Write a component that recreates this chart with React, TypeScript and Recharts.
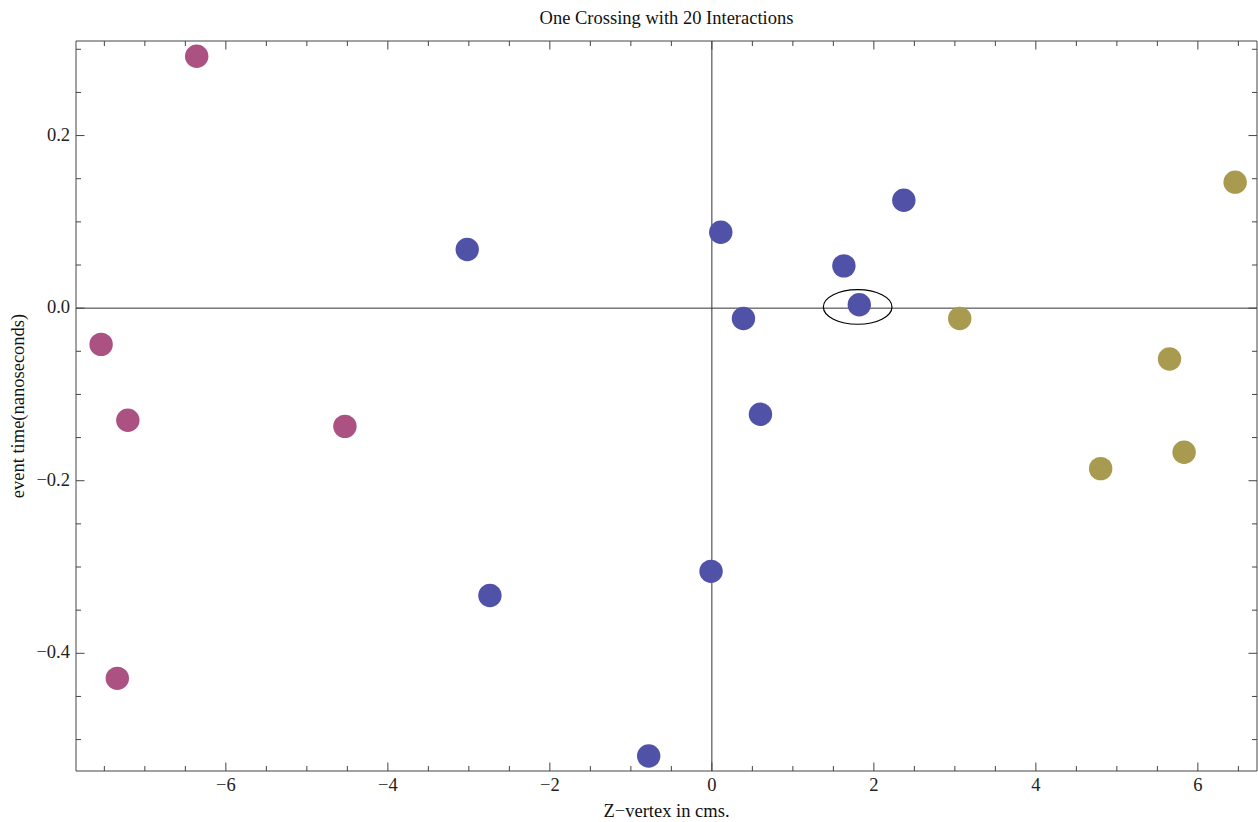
import { ScatterChart, Scatter, XAxis, YAxis, ReferenceLine } from "recharts";

// z-vertex (cm) and event time (ns) for each group of interactions
const pinkZ = [-6.36, -7.54, -7.21, -4.53, -7.34];
const pinkT = [0.292, -0.042, -0.130, -0.137, -0.429];

const blueZ = [-3.02, 0.11, 2.37, 1.63, 1.82, 0.39, 0.6, -0.01, -2.74, -0.78];
const blueT = [0.068, 0.088, 0.125, 0.049, 0.004, -0.012, -0.123, -0.305, -0.333, -0.519];

const goldZ = [6.46, 3.06, 5.65, 4.8, 5.83];
const goldT = [0.146, -0.012, -0.059, -0.186, -0.167];

// the circled vertex
const markZ = [1.8];
const markT = [0.0014];

const xTicks = [-7.5, -7, -6.5, -6, -5.5, -5, -4.5, -4, -3.5, -3, -2.5, -2, -1.5, -1, -0.5, 0, 0.5, 1, 1.5, 2, 2.5, 3, 3.5, 4, 4.5, 5, 5.5, 6, 6.5];
const xLabeled = [-6, -4, -2, 0, 2, 4, 6];
const yTicks = [-0.5, -0.45, -0.4, -0.35, -0.3, -0.25, -0.2, -0.15, -0.1, -0.05, 0, 0.05, 0.1, 0.15, 0.2, 0.25, 0.3];
const yLabeled = [-0.4, -0.2, 0, 0.2];

const xDomain = [-7.85, 6.73];
const yDomain = [-0.5364, 0.3096];

const PINK = "#ab5283";
const BLUE = "#5052a8";
const GOLD = "#a89a4e";
const FRAME = "#444";
const FONT = "'Liberation Serif', 'Times New Roman', serif";

const toPoints = (zs: number[], ts: number[]) => zs.map((z, i) => ({ z, t: ts[i] }));

const has = (list: number[], v: number) => list.some((m) => Math.abs(m - v) < 1e-9);
const minus = (s: string) => s.replace("-", "\u2212");

function FrameTick(props: any) {
  const { x, y, payload, side } = props;
  const v = payload.value as number;
  const major = side === "bottom" || side === "top" ? has(xLabeled, v) : has(yLabeled, v);
  const len = major ? 8.5 : 5;
  if (side === "bottom") {
    return (
      <g>
        <line x1={x} x2={x} y1={y} y2={y - len} stroke={FRAME} />
        {major && (
          <text x={x} y={y + 19.5} textAnchor="middle" fontSize={18.5} fontFamily={FONT} fill="#222">
            {minus(String(v))}
          </text>
        )}
      </g>
    );
  }
  if (side === "left") {
    return (
      <g>
        <line x1={x} x2={x + len} y1={y} y2={y} stroke={FRAME} />
        {major && (
          <text x={x - 6} y={y + 5} textAnchor="end" fontSize={18.5} fontFamily={FONT} fill="#222">
            {minus(v.toFixed(1))}
          </text>
        )}
      </g>
    );
  }
  if (side === "top") {
    return <line x1={x} x2={x} y1={y} y2={y + len} stroke={FRAME} />;
  }
  return <line x1={x} x2={x - len} y1={y} y2={y} stroke={FRAME} />;
}

const dot = (color: string) => (p: any) => <circle cx={p.cx} cy={p.cy} r={11.7} fill={color} />;

export default function App() {
  return (
    <div style={{ position: "absolute", left: 0, top: 0, width: 1258, height: 822, background: "#fff" }}>
      <svg width={1258} height={40} style={{ position: "absolute", left: 0, top: 0 }}>
        <text x={666.5} y={24} textAnchor="middle" fontSize={18.5} fontFamily={FONT} fill="#111">
          One Crossing with 20 Interactions
        </text>
      </svg>
      <ScatterChart width={1258} height={822} margin={{ top: 40, right: 0, bottom: 0, left: 0 }}>
        <XAxis
          xAxisId="b"
          dataKey="z"
          type="number"
          domain={xDomain}
          allowDataOverflow
          ticks={xTicks}
          interval={0}
          height={51}
          tickSize={0}
          tickMargin={0}
          tickLine={false}
          axisLine={{ stroke: FRAME }}
          tick={(p: any) => <FrameTick {...p} side="bottom" />}
          label={{ value: "Z\u2212vertex in cms.", position: "insideBottom", offset: 5, fontSize: 18.5, fontFamily: FONT, fill: "#111" }}
        />
        <XAxis
          xAxisId="t"
          orientation="top"
          dataKey="z"
          type="number"
          domain={xDomain}
          allowDataOverflow
          ticks={xTicks}
          interval={0}
          height={1}
          tickSize={0}
          tickMargin={0}
          tickLine={false}
          axisLine={{ stroke: FRAME }}
          tick={(p: any) => <FrameTick {...p} side="top" />}
        />
        <YAxis
          yAxisId="l"
          dataKey="t"
          type="number"
          domain={yDomain}
          allowDataOverflow
          ticks={yTicks}
          interval={0}
          width={76}
          tickSize={0}
          tickMargin={0}
          tickLine={false}
          axisLine={{ stroke: FRAME }}
          tick={(p: any) => <FrameTick {...p} side="left" />}
          label={{
            value: "event time(nanoseconds)",
            angle: -90,
            position: "insideLeft",
            offset: 17.5,
            fontSize: 18.5,
            fontFamily: FONT,
            fill: "#111",
            style: { textAnchor: "middle" },
          }}
        />
        <YAxis
          yAxisId="r"
          orientation="right"
          dataKey="t"
          type="number"
          domain={yDomain}
          allowDataOverflow
          ticks={yTicks}
          interval={0}
          width={1}
          tickSize={0}
          tickMargin={0}
          tickLine={false}
          axisLine={{ stroke: FRAME }}
          tick={(p: any) => <FrameTick {...p} side="right" />}
        />
        <ReferenceLine xAxisId="b" yAxisId="l" x={0} stroke="#333" />
        <ReferenceLine xAxisId="b" yAxisId="l" y={0} stroke="#333" />
        <Scatter xAxisId="b" yAxisId="l" data={toPoints(pinkZ, pinkT)} shape={dot(PINK)} isAnimationActive={false} />
        <Scatter xAxisId="b" yAxisId="l" data={toPoints(blueZ, blueT)} shape={dot(BLUE)} isAnimationActive={false} />
        <Scatter xAxisId="b" yAxisId="l" data={toPoints(goldZ, goldT)} shape={dot(GOLD)} isAnimationActive={false} />
        <Scatter
          xAxisId="t"
          yAxisId="r"
          data={toPoints(markZ, markT)}
          isAnimationActive={false}
          shape={(p: any) => <ellipse cx={p.cx} cy={p.cy} rx={34.3} ry={17.3} fill="none" stroke="#000" strokeWidth={1.2} />}
        />
      </ScatterChart>
    </div>
  );
}
